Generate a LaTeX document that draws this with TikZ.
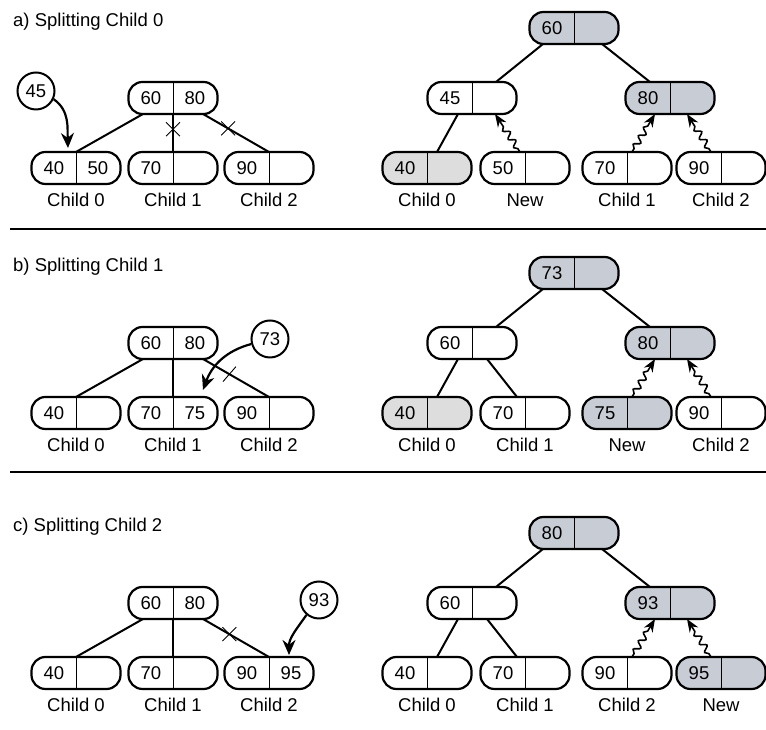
\documentclass[tikz,border=0pt]{standalone}
\usepackage{fontspec}
\setmainfont{Liberation Sans}
\usetikzlibrary{arrows.meta,decorations.pathmorphing,shapes.misc}
\definecolor{fillA}{RGB}{200,204,212}
\definecolor{fillB}{RGB}{221,221,222}
\tikzset{
  bnode/.style={draw, line width=2.2pt, rounded corners=14pt, minimum width=89pt, minimum height=32pt, inner sep=0pt, outer sep=0pt},
  divline/.style={line width=1pt},
  numtxt/.style={inner sep=0pt, font=\fontsize{18.5}{21}\selectfont},
  lbl/.style={inner sep=0pt, anchor=base, font=\fontsize{18.5}{21}\selectfont},
  ttl/.style={inner sep=0pt, anchor=base west, font=\fontsize{18.5}{21}\selectfont},
  valcircle/.style={draw, circle, line width=2pt, minimum size=37pt, inner sep=0pt, font=\fontsize{18.5}{21}\selectfont},
  edge/.style={line width=2pt},
  sepline/.style={line width=2.4pt},
  xmark/.style={draw, cross out, line width=0.9pt, minimum size=13pt, inner sep=0pt},
  slashmark/.style={draw, strike out, line width=0.9pt, minimum width=12pt, minimum height=14pt, inner sep=0pt},
  curvearrow/.style={line width=2.2pt, -{Stealth[length=15pt,width=13pt]}},
  snakearrow/.style={line width=1.6pt, decorate, decoration={snake, amplitude=3pt, segment length=10pt, pre length=4pt, post length=12pt}, -{Stealth[length=13pt,width=10pt]}}
}
\newcommand{\btnode}[6]{%
  \node[bnode, fill=#4] (#1) at (#2,#3) {};
  \draw[divline] (#1.north) -- (#1.south);
  \node[numtxt] (#1l) at ([xshift=-22pt]#1.center) {#5};
  \node[numtxt] (#1r) at ([xshift=22pt]#1.center) {#6};
}
\begin{document}
\begin{tikzpicture}[x=1pt,y=1pt]
\useasboundingbox (0,0) rectangle (766,730);

% ---------------- panel a ----------------
\node[ttl] (ta) at (13,703) {a) Splitting Child 0};
\btnode{ap}{173}{632}{white}{60}{80}
\btnode{ac0}{76}{562}{white}{40}{50}
\btnode{ac1}{173}{562}{white}{70}{}
\btnode{ac2}{269}{562}{white}{90}{}
\node[lbl] (la0) at (76,523) {Child 0};
\node[lbl] (la1) at (173,523) {Child 1};
\node[lbl] (la2) at (269,523) {Child 2};
\draw[edge] ([xshift=-30pt]ap.south) -- (ac0.north);
\draw[edge] (ap.south) -- node[pos=0.4, xmark] (xa1) {} (ac1.north);
\draw[edge] ([xshift=30pt]ap.south) -- node[pos=0.38, xmark] (xa2) {} (ac2.north);
\node[valcircle] (c45) at (36,639) {45};
\draw[curvearrow] (c45.-25) to[out=-35,in=92] ([xshift=-8pt,yshift=4pt]ac0.north);

\btnode{ar}{574}{702}{fillA}{60}{}
\btnode{am1}{472}{632}{white}{45}{}
\btnode{am2}{670}{632}{fillA}{80}{}
\btnode{ab0}{427}{562}{fillB}{40}{}
\btnode{ab1}{525}{562}{white}{50}{}
\btnode{ab2}{627}{562}{white}{70}{}
\btnode{ab3}{721}{562}{white}{90}{}
\node[lbl] (lb0) at (427,523) {Child 0};
\node[lbl] (lb1) at (525,523) {New};
\node[lbl] (lb2) at (627,523) {Child 1};
\node[lbl] (lb3) at (721,523) {Child 2};
\draw[edge] ([xshift=-31pt]ar.south) -- ([xshift=24pt]am1.north);
\draw[edge] ([xshift=28pt]ar.south) -- ([xshift=-20pt]am2.north);
\draw[edge] ([xshift=-14pt]am1.south) -- ([xshift=10pt]ab0.north);
\draw[snakearrow] ([xshift=-5pt]ab1.north) -- ([xshift=23pt]am1.south);
\draw[snakearrow] ([xshift=5pt]ab2.north) -- ([xshift=-15pt]am2.south);
\draw[snakearrow] ([xshift=-10pt]ab3.north) -- ([xshift=17pt]am2.south);

\coordinate (s1a) at (10,501);
\coordinate (s1b) at (766,501);
\draw[sepline] (s1a) -- (s1b);

% ---------------- panel b ----------------
\node[ttl] (tb) at (13,458) {b) Splitting Child 1};
\btnode{bp}{173}{387}{white}{60}{80}
\btnode{bc0}{76}{317}{white}{40}{}
\btnode{bc1}{173}{317}{white}{70}{75}
\btnode{bc2}{269}{317}{white}{90}{}
\node[lbl] (lc0) at (76,278) {Child 0};
\node[lbl] (lc1) at (173,278) {Child 1};
\node[lbl] (lc2) at (269,278) {Child 2};
\draw[edge] ([xshift=-30pt]bp.south) -- (bc0.north);
\draw[edge] (bp.south) -- (bc1.north);
\draw[edge] ([xshift=30pt]bp.south) -- node[pos=0.4, slashmark] (xb2) {} (bc2.north);
\node[valcircle] (c73) at (270,391) {73};
\draw[curvearrow] (c73.195) to[out=195,in=70] ([xshift=30pt,yshift=7pt]bc1.north);

\btnode{br}{574}{457}{fillA}{73}{}
\btnode{bm1}{472}{387}{white}{60}{}
\btnode{bm2}{670}{387}{fillA}{80}{}
\btnode{bb0}{427}{317}{fillB}{40}{}
\btnode{bb1}{525}{317}{white}{70}{}
\btnode{bb2}{627}{317}{fillA}{75}{}
\btnode{bb3}{721}{317}{white}{90}{}
\node[lbl] (ld0) at (427,278) {Child 0};
\node[lbl] (ld1) at (525,278) {Child 1};
\node[lbl] (ld2) at (627,278) {New};
\node[lbl] (ld3) at (721,278) {Child 2};
\draw[edge] ([xshift=-31pt]br.south) -- ([xshift=24pt]bm1.north);
\draw[edge] ([xshift=28pt]br.south) -- ([xshift=-20pt]bm2.north);
\draw[edge] ([xshift=-14pt]bm1.south) -- ([xshift=10pt]bb0.north);
\draw[edge] ([xshift=15pt]bm1.south) -- ([xshift=-8pt]bb1.north);
\draw[snakearrow] ([xshift=5pt]bb2.north) -- ([xshift=-15pt]bm2.south);
\draw[snakearrow] ([xshift=-10pt]bb3.north) -- ([xshift=17pt]bm2.south);

\coordinate (s2a) at (10,258);
\coordinate (s2b) at (766,258);
\draw[sepline] (s2a) -- (s2b);

% ---------------- panel c ----------------
\node[ttl] (tc) at (13,198) {c) Splitting Child 2};
\btnode{cp}{173}{127}{white}{60}{80}
\btnode{cc0}{76}{57}{white}{40}{}
\btnode{cc1}{173}{57}{white}{70}{}
\btnode{cc2}{269}{57}{white}{90}{95}
\node[lbl] (le0) at (76,18) {Child 0};
\node[lbl] (le1) at (173,18) {Child 1};
\node[lbl] (le2) at (269,18) {Child 2};
\draw[edge] ([xshift=-30pt]cp.south) -- (cc0.north);
\draw[edge] (cp.south) -- (cc1.north);
\draw[edge] ([xshift=30pt]cp.south) -- node[pos=0.4, xmark] (xc2) {} (cc2.north);
\node[valcircle] (c93) at (319,130) {93};
\draw[curvearrow] (c93.230) to[out=235,in=90] ([xshift=20pt,yshift=2pt]cc2.north);

\btnode{cr}{574}{197}{fillA}{80}{}
\btnode{cm1}{472}{127}{white}{60}{}
\btnode{cm2}{670}{127}{fillA}{93}{}
\btnode{cb0}{427}{57}{white}{40}{}
\btnode{cb1}{525}{57}{white}{70}{}
\btnode{cb2}{627}{57}{white}{90}{}
\btnode{cb3}{721}{57}{fillA}{95}{}
\node[lbl] (lf0) at (427,18) {Child 0};
\node[lbl] (lf1) at (525,18) {Child 1};
\node[lbl] (lf2) at (627,18) {Child 2};
\node[lbl] (lf3) at (721,18) {New};
\draw[edge] ([xshift=-31pt]cr.south) -- ([xshift=24pt]cm1.north);
\draw[edge] ([xshift=28pt]cr.south) -- ([xshift=-20pt]cm2.north);
\draw[edge] ([xshift=-14pt]cm1.south) -- ([xshift=10pt]cb0.north);
\draw[edge] ([xshift=15pt]cm1.south) -- ([xshift=-8pt]cb1.north);
\draw[snakearrow] ([xshift=5pt]cb2.north) -- ([xshift=-15pt]cm2.south);
\draw[snakearrow] ([xshift=-10pt]cb3.north) -- ([xshift=17pt]cm2.south);
\end{tikzpicture}
\end{document}
